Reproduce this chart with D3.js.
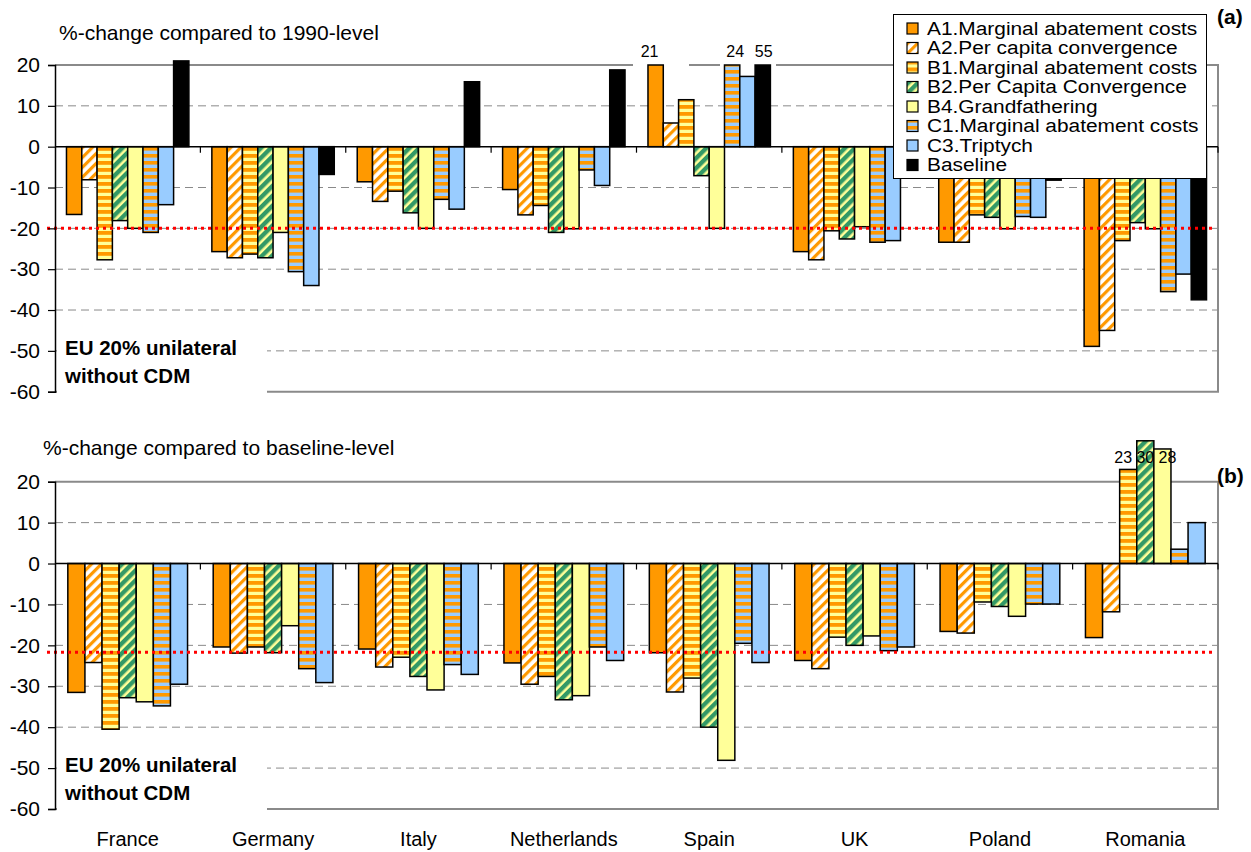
<!DOCTYPE html>
<html>
<head>
<meta charset="utf-8">
<script src="https://cdn.jsdelivr.net/npm/d3@7"></script>
<style>
  body { margin: 0; background: #fff; }
  svg { display: block; }
  text { font-family: Arial, "Liberation Sans", sans-serif; fill: #000; }
</style>
</head>
<body>
<svg id="chart" width="1251" height="852"></svg>
<script>
// ---- data -------------------------------------------------------------
const countries = ["France", "Germany", "Italy", "Netherlands", "Spain", "UK", "Poland", "Romania"];

const seriesNames = [
  "A1.Marginal abatement costs",
  "A2.Per capita convergence",
  "B1.Marginal abatement costs",
  "B2.Per Capita Convergence",
  "B4.Grandfathering",
  "C1.Marginal abatement costs",
  "C3.Triptych",
  "Baseline"
];

const yTicks = [20, 10, 0, -10, -20, -30, -40, -50, -60];

// (a) %-change compared to 1990 level
const a1Vs1990       = [-16.6, -25.7,  -8.6, -10.5,  21.0, -25.7, -23.4, -48.9];
const a2Vs1990       = [ -8.1, -27.2, -13.4, -16.7,   5.8, -27.7, -23.4, -45.0];
const b1Vs1990       = [-27.7, -26.3, -10.9, -14.4,  11.5, -20.6, -16.7, -23.0];
const b2Vs1990       = [-18.1, -27.2, -16.2, -21.0,  -7.1, -22.6, -17.3, -18.6];
const b4Vs1990       = [-20.0, -21.0, -20.0, -20.1, -20.0, -19.6, -20.1, -20.1];
const c1Vs1990       = [-21.0, -30.6, -12.9,  -5.7,  24.0, -23.4, -17.1, -35.5];
const c3Vs1990       = [-14.2, -34.0, -15.3,  -9.5,  17.2, -23.0, -17.3, -31.2];
const baselineVs1990 = [ 21.0,  -6.8,  15.9,  18.8,  55.0,  -5.0,  -8.2, -37.5];
// bars running past the top of panel (a): cut at the frame, value written above
const overflow1990 = [["Spain", 0], ["Spain", 5], ["Spain", 7]];
const target1990 = -20;

// (b) %-change compared to baseline level
const a1VsBase = [-31.5, -20.4, -20.9, -24.3, -21.8, -23.7, -16.6, -18.1];
const a2VsBase = [-24.2, -21.9, -25.3, -29.5, -31.4, -25.7, -17.0, -11.8];
const b1VsBase = [-40.5, -20.4, -22.9, -27.6, -28.0, -18.0,  -9.4,  23.0];
const b2VsBase = [-32.8, -21.8, -27.6, -33.3, -40.0, -20.0, -10.5,  30.0];
const b4VsBase = [-33.8, -15.2, -30.9, -32.3, -48.1, -17.7, -12.9,  28.0];
const c1VsBase = [-34.8, -25.7, -24.7, -20.4, -19.5, -21.3,  -9.9,   3.5];
const c3VsBase = [-29.5, -29.1, -27.1, -23.7, -24.2, -20.4,  -9.9,  10.0];
const overflowBase = [["Romania", 2], ["Romania", 3], ["Romania", 4]];
const targetBase = -21.7;

// ---- styles -------------------------------------------------------------
const ORANGE = "#FF9900", YELLOW = "#FFFF99", GREEN = "#339966", BLUE = "#99CCFF";

const svg = d3.select("#chart");
const defs = svg.append("defs");

function stripes(id, angle, period, c1, w1, c2) {
  const p = defs.append("pattern")
    .attr("id", id)
    .attr("patternUnits", "userSpaceOnUse")
    .attr("width", period).attr("height", period)
    .attr("patternTransform", `rotate(${angle})`);
  p.append("rect").attr("width", period).attr("height", period).attr("fill", c2);
  p.append("rect").attr("width", w1).attr("height", period).attr("fill", c1);
}
stripes("pA2", 45, 7, ORANGE, 3.2, "#FFFFFF");
stripes("pB1", 90, 7, ORANGE, 3.8, YELLOW);
stripes("pB2", 45, 7, GREEN, 4.4, YELLOW);
stripes("pC1", 90, 7, ORANGE, 3.6, BLUE);

const fills = [ORANGE, "url(#pA2)", "url(#pB1)", "url(#pB2)", YELLOW, "url(#pC1)", BLUE, "#000000"];

// ---- panels -------------------------------------------------------------
const X0 = 55, X1 = 1218;
const x = d3.scaleBand().domain(countries).range([X0, X1]).paddingInner(0).paddingOuter(0);

function drawPanel(cfg) {
  const g = svg.append("g");
  const y = d3.scaleLinear().domain([-60, 20]).range([cfg.bottom, cfg.top]);
  const names = seriesNames.slice(0, cfg.values.length);
  const inner = d3.scaleBand().domain(names).range([0, x.bandwidth()])
    .paddingInner(0).paddingOuter(0.75);

  // dashed gridlines
  g.selectAll("line.grid")
    .data(yTicks.filter(t => t !== 20 && t !== 0 && t !== -60))
    .join("line")
    .attr("x1", X0).attr("x2", X1)
    .attr("y1", d => y(d)).attr("y2", d => y(d))
    .attr("stroke", "#8a8a8a").attr("stroke-width", 1)
    .attr("stroke-dasharray", "8,5");

  // plot frame (top, right, bottom)
  g.append("path")
    .attr("d", `M${X0},${y(20)}H${X1}V${y(-60)}H${X0}`)
    .attr("fill", "none").attr("stroke", "#8a8a8a").attr("stroke-width", 2);

  const overflowKeys = new Set(cfg.overflow.map(o => o[0] + "|" + o[1]));

  // white boxes behind the overflow values
  if (cfg.labelBox) {
    cfg.labelBox.forEach(b => {
      g.append("rect").attr("x", b[0]).attr("y", b[1]).attr("width", b[2]).attr("height", b[3]).attr("fill", "#fff");
    });
  }

  // bars
  const cells = [];
  cfg.values.forEach((arr, si) => {
    arr.forEach((v, ci) => {
      const key = countries[ci] + "|" + si;
      const shown = (cfg.cutOverflow && overflowKeys.has(key)) ? Math.min(v, 20) : v;
      cells.push({ country: countries[ci], si, v, shown });
    });
  });
  g.selectAll("rect.bar")
    .data(cells)
    .join("rect")
    .attr("class", "bar")
    .attr("x", d => x(d.country) + inner(names[d.si]))
    .attr("width", inner.bandwidth())
    .attr("y", d => y(Math.max(d.shown, 0)))
    .attr("height", d => Math.abs(y(d.shown) - y(0)))
    .attr("fill", d => fills[d.si])
    .attr("stroke", "#000").attr("stroke-width", 1.5);

  // category axis along zero
  g.append("line")
    .attr("x1", X0).attr("x2", X1).attr("y1", y(0)).attr("y2", y(0))
    .attr("stroke", "#000").attr("stroke-width", 1.5);
  g.selectAll("line.ctick")
    .data(countries.slice(1).map(c => x(c)).concat([X1]))
    .join("line")
    .attr("x1", d => d).attr("x2", d => d)
    .attr("y1", y(0)).attr("y2", y(0) + 6)
    .attr("stroke", "#000").attr("stroke-width", 1.2);

  // red reduction-target line
  g.append("line")
    .attr("x1", X0 - 8).attr("x2", X1 - 3)
    .attr("y1", y(cfg.target)).attr("y2", y(cfg.target))
    .attr("stroke", "#FF0000").attr("stroke-width", 3)
    .attr("stroke-dasharray", "3,4");

  // scenario note on a white box
  g.append("rect")
    .attr("x", X0 + 2).attr("y", y(-60) - 62).attr("width", 210).attr("height", 68)
    .attr("fill", "#fff");
  const note = g.append("text")
    .attr("x", 65).attr("y", y(-60) - 37)
    .attr("font-size", 20.5).attr("font-weight", "bold");
  note.append("tspan").attr("x", 65).text("EU 20% unilateral");
  note.append("tspan").attr("x", 65).attr("dy", 28).text("without CDM");

  // value axis
  const axis = d3.axisLeft(y).tickValues(yTicks).tickSize(7).tickPadding(8).tickFormat(d => String(d));
  const ag = g.append("g").attr("transform", `translate(${X0},0)`).call(axis);
  ag.select(".domain").attr("stroke", "#000").attr("stroke-width", 1.5);
  ag.selectAll(".tick line").attr("stroke", "#000").attr("stroke-width", 1.2);
  ag.selectAll(".tick text")
    .attr("font-size", 21).attr("font-family", "Arial, 'Liberation Sans', sans-serif")
    .attr("fill", "#000");

  // axis title
  g.append("text").attr("x", cfg.titleX).attr("y", cfg.titleY)
    .attr("font-size", 21).text(cfg.title);

  // panel tag
  g.append("text").attr("x", 1217).attr("y", cfg.tagY)
    .attr("font-size", 21).attr("font-weight", "bold").text(cfg.tag);

  // values of bars running past the frame
  g.selectAll("text.over")
    .data(cfg.overflow)
    .join("text")
    .attr("x", d => x(d[0]) + inner(names[d[1]]) + inner.bandwidth() / 2 + (d[2] || 0))
    .attr("y", cfg.overY)
    .attr("text-anchor", "middle")
    .attr("font-size", 16)
    .text(d => String(cfg.values[d[1]][countries.indexOf(d[0])]));

  return { y, inner };
}

drawPanel({
  top: 65, bottom: 391.7,
  values: [a1Vs1990, a2Vs1990, b1Vs1990, b2Vs1990, b4Vs1990, c1Vs1990, c3Vs1990, baselineVs1990],
  overflow: overflow1990.map((o, i) => o.concat([[-6, 3, 1][i]])),
  cutOverflow: true,
  labelBox: [[633, 38, 56, 28], [720, 38, 56, 28]],
  overY: 57,
  target: target1990,
  title: "%-change compared to 1990-level", titleX: 59, titleY: 40,
  tag: "(a)", tagY: 24
});

drawPanel({
  top: 481.7, bottom: 809,
  values: [a1VsBase, a2VsBase, b1VsBase, b2VsBase, b4VsBase, c1VsBase, c3VsBase],
  overflow: overflowBase.map((o, i) => o.concat([[-5, 0, 5][i]])),
  cutOverflow: false,
  overY: 463,
  target: targetBase,
  title: "%-change compared to baseline-level", titleX: 43, titleY: 455,
  tag: "(b)", tagY: 483
});

// country names under the lower panel
svg.append("g").selectAll("text")
  .data(countries)
  .join("text")
  .attr("x", d => x(d) + x.bandwidth() / 2)
  .attr("y", 846)
  .attr("text-anchor", "middle")
  .attr("font-size", 20)
  .text(d => d);

// ---- legend -------------------------------------------------------------
const lg = svg.append("g");
lg.append("rect")
  .attr("x", 893.5).attr("y", 14.5).attr("width", 313).attr("height", 164)
  .attr("fill", "#fff").attr("stroke", "#000").attr("stroke-width", 1);
const rows = lg.selectAll("g.row")
  .data(seriesNames)
  .join("g")
  .attr("transform", (d, i) => `translate(0,${28.5 + i * 19.5})`);
rows.append("rect")
  .attr("x", 907).attr("y", -5.5).attr("width", 11).attr("height", 11)
  .attr("fill", (d, i) => fills[i]).attr("stroke", "#000").attr("stroke-width", 1.2);
rows.append("text")
  .attr("transform", "translate(927,0) scale(1.16,1)")
  .attr("dy", "0.36em")
  .attr("font-size", 18)
  .text(d => d);
</script>
</body>
</html>
